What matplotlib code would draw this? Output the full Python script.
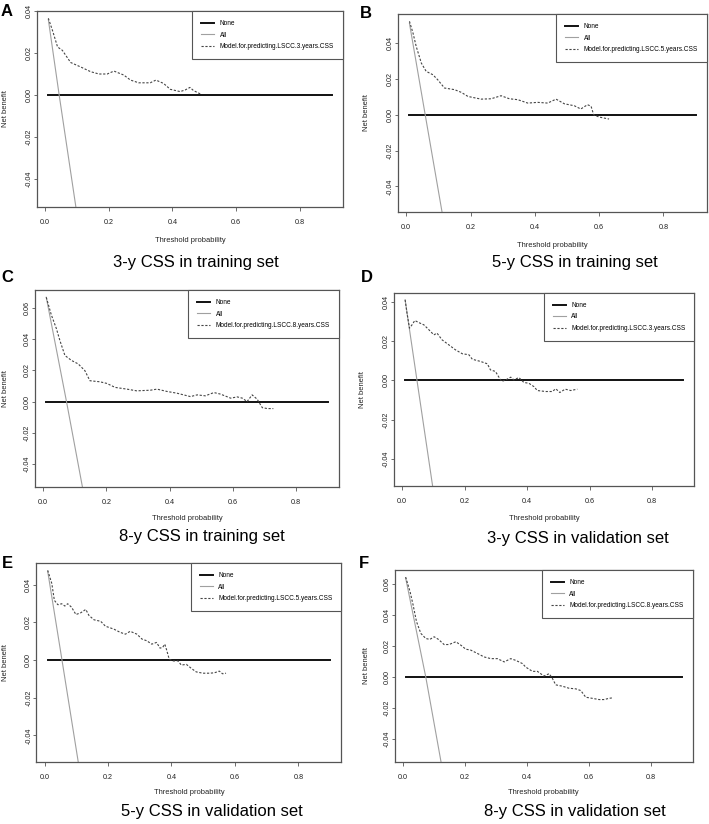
import numpy as np
import matplotlib
matplotlib.use('Agg')
import matplotlib.pyplot as plt

plt.rcParams['font.family'] = ['Liberation Sans', 'DejaVu Sans']

# decision curves (threshold probability -> net benefit)
none_thr = [0.01, 0.90]
none_nb = [0.0, 0.0]

a_thr = [0.01, 0.023, 0.039, 0.054, 0.080, 0.111, 0.143, 0.169, 0.195, 0.216, 0.247,
         0.268, 0.294, 0.330, 0.348, 0.372, 0.393, 0.424, 0.440, 0.455, 0.466, 0.49]
a_model = [0.0366, 0.0308, 0.0229, 0.0213, 0.0155, 0.0134, 0.0111, 0.0100, 0.0100, 0.0114, 0.0095,
           0.0071, 0.0058, 0.0058, 0.0071, 0.0055, 0.0027, 0.0016, 0.0024, 0.0036, 0.0021, 0.0003]
a_all_thr = [0.01, 0.044, 0.10]
a_all = [0.036, 0.0, -0.057]

b_thr = [0.01, 0.021, 0.031, 0.047, 0.062, 0.083, 0.098, 0.119, 0.150, 0.171, 0.192, 0.233, 0.264, 0.295,
         0.321, 0.347, 0.378, 0.409, 0.440, 0.466, 0.492, 0.523, 0.543, 0.564, 0.575, 0.583, 0.600, 0.631]
b_model = [0.0521, 0.0456, 0.0381, 0.0288, 0.0242, 0.0223, 0.0195, 0.0149, 0.0140, 0.0125, 0.0102, 0.0087, 0.0089, 0.0106,
           0.0089, 0.0084, 0.0065, 0.0069, 0.0065, 0.0087, 0.0061, 0.0050, 0.0032, 0.0056, 0.0047, 0.0, -0.0013, -0.0024]
b_all_thr = [0.01, 0.059, 0.115]
b_all = [0.051, 0.0, -0.058]

c_thr = [0.01, 0.026, 0.042, 0.053, 0.069, 0.090, 0.111, 0.132, 0.148, 0.180, 0.201, 0.228, 0.265, 0.296, 0.339, 0.360,
         0.392, 0.423, 0.466, 0.487, 0.513, 0.540, 0.561, 0.593, 0.614, 0.630, 0.645, 0.661, 0.677, 0.693, 0.709, 0.728]
c_model = [0.0670, 0.0557, 0.0469, 0.0393, 0.0296, 0.0264, 0.0242, 0.0199, 0.0134, 0.0127, 0.0117, 0.0091, 0.0080, 0.0069, 0.0073, 0.0080,
           0.0065, 0.0054, 0.0032, 0.0043, 0.0037, 0.0058, 0.0048, 0.0022, 0.0030, 0.0022, 0.0, 0.0043, 0.0015, -0.0039, -0.0045, -0.0045]
c_all_thr = [0.01, 0.074, 0.13]
c_all = [0.067, 0.0, -0.061]

d_thr = [0.01, 0.016, 0.024, 0.032, 0.041, 0.053, 0.070, 0.086, 0.102, 0.112, 0.128, 0.150, 0.171, 0.193, 0.214, 0.225, 0.251, 0.273, 0.283,
         0.299, 0.310, 0.319, 0.332, 0.348, 0.358, 0.374, 0.390, 0.406, 0.422, 0.433, 0.460, 0.481, 0.492, 0.505, 0.522, 0.540, 0.561]
d_model = [0.0410, 0.0342, 0.0266, 0.0283, 0.0305, 0.0295, 0.0283, 0.0258, 0.0232, 0.0241, 0.0207, 0.0181, 0.0156, 0.0136, 0.0131, 0.0108, 0.0097, 0.0085, 0.0054,
           0.0046, 0.0017, -0.0005, 0.0003, 0.0017, 0.0003, 0.0015, -0.0010, -0.0014, -0.0031, -0.0051, -0.0056, -0.0056, -0.0042, -0.0061, -0.0044, -0.0051, -0.0044]
d_all_thr = [0.01, 0.048, 0.102]
d_all = [0.041, 0.0, -0.058]

e_thr = [0.01, 0.023, 0.031, 0.042, 0.054, 0.064, 0.073, 0.085, 0.099, 0.114, 0.130, 0.140, 0.156, 0.177, 0.192, 0.218, 0.239, 0.255, 0.270, 0.291, 0.307,
         0.322, 0.338, 0.353, 0.364, 0.372, 0.379, 0.385, 0.393, 0.405, 0.421, 0.431, 0.447, 0.463, 0.478, 0.499, 0.520, 0.535, 0.551, 0.561, 0.572]
e_model = [0.0475, 0.0405, 0.0316, 0.0293, 0.0298, 0.0286, 0.0298, 0.0280, 0.0241, 0.0250, 0.0268, 0.0236, 0.0213, 0.0205, 0.0179, 0.0164, 0.0146, 0.0137, 0.0152, 0.0137, 0.0111,
           0.0102, 0.0084, 0.0093, 0.0063, 0.0066, 0.0084, 0.0052, 0.0004, -0.0005, -0.0005, -0.0027, -0.0023, -0.0045, -0.0063, -0.0070, -0.0070, -0.0068, -0.0059, -0.0073, -0.0070]
e_all_thr = [0.01, 0.055, 0.11]
e_all = [0.047, 0.0, -0.058]

f_thr = [0.01, 0.024, 0.034, 0.045, 0.059, 0.075, 0.088, 0.102, 0.116, 0.134, 0.150, 0.172, 0.188, 0.204, 0.220, 0.242, 0.263, 0.285, 0.306, 0.328,
         0.349, 0.365, 0.387, 0.397, 0.419, 0.435, 0.456, 0.473, 0.483, 0.494, 0.516, 0.537, 0.559, 0.575, 0.591, 0.612, 0.634, 0.650, 0.666, 0.677]
f_model = [0.0645, 0.0553, 0.0466, 0.0358, 0.0282, 0.0249, 0.0243, 0.0260, 0.0243, 0.0210, 0.0210, 0.0228, 0.0206, 0.0180, 0.0174, 0.0152, 0.0130, 0.0119, 0.0119, 0.0098,
           0.0119, 0.0108, 0.0087, 0.0065, 0.0037, 0.0037, 0.0007, 0.0022, -0.0007, -0.0050, -0.0059, -0.0072, -0.0076, -0.0087, -0.0130, -0.0137, -0.0145, -0.0145, -0.0137, -0.0134]
f_all_thr = [0.01, 0.075, 0.128]
f_all = [0.064, 0.0, -0.059]

letters = ['A', 'B', 'C', 'D', 'E', 'F']
titles = ['3-y CSS in training set', '5-y CSS in training set', '8-y CSS in training set',
          '3-y CSS in validation set', '5-y CSS in validation set', '8-y CSS in validation set']
model_labels = ['Model.for.predicting.LSCC.3.years.CSS', 'Model.for.predicting.LSCC.5.years.CSS',
                'Model.for.predicting.LSCC.8.years.CSS', 'Model.for.predicting.LSCC.3.years.CSS',
                'Model.for.predicting.LSCC.5.years.CSS', 'Model.for.predicting.LSCC.8.years.CSS']
curves = [(a_thr, a_model, a_all_thr, a_all), (b_thr, b_model, b_all_thr, b_all),
          (c_thr, c_model, c_all_thr, c_all), (d_thr, d_model, d_all_thr, d_all),
          (e_thr, e_model, e_all_thr, e_all), (f_thr, f_model, f_all_thr, f_all)]

# layout in pixels: axes left, top, right, bottom, xlabel y, ylabel x, title x, title y, letter x, letter y
layout = [(37, 11, 343, 207, 240, 6, 196, 262, 7, 11),
          (398, 14, 707, 211.7, 245.7, 367, 575, 262, 366, 14),
          (35, 290, 339, 486.7, 518, 6, 201.7, 536.7, 7, 278),
          (394, 292.7, 694.4, 486, 518, 363, 578, 539, 367, 277),
          (36.4, 563, 341.4, 761.7, 793, 6, 211.7, 811.7, 7, 564),
          (394.6, 570, 692.6, 761.7, 793, 366, 575, 811.7, 364, 563)]

W, H = 709, 824
fig = plt.figure(figsize=(W / 100, H / 100), dpi=100)
spine_col = '#555555'

for i in range(6):
    thr, model, all_thr, all_nb = curves[i]
    l, t, r, b, xl_y, yl_x, tx, ty, lx, ly = layout[i]
    ax = fig.add_axes([l / W, 1 - b / H, (r - l) / W, (b - t) / H])

    ax.plot(none_thr, none_nb, color='#111111', lw=1.4, label='None')
    ax.plot(all_thr, all_nb, color='#a0a0a0', lw=0.8, label='All')
    ax.plot(thr, model, color='#444444', lw=0.8, dashes=(2, 1.5), label=model_labels[i])

    xlo, xhi = 0.01, 0.90
    xp = 0.04 * (xhi - xlo)
    ax.set_xlim(xlo - xp, xhi + xp)
    ylo, yhi = -0.05, max(model)
    yp = 0.04 * (yhi - ylo)
    ax.set_ylim(ylo - yp, yhi + yp)

    ax.set_xticks([0.0, 0.2, 0.4, 0.6, 0.8])
    ax.set_xticklabels(['0.0', '0.2', '0.4', '0.6', '0.8'])
    yt = np.arange(-0.04, yhi + yp + 1e-9, 0.02)
    ax.set_yticks(yt)
    ax.set_yticklabels(['%.2f' % v if abs(v) > 1e-9 else '0.00' for v in yt],
                       rotation=90, va='center')

    ax.tick_params(labelsize=5.2, width=0.6, color=spine_col, labelcolor='#222222')
    ax.tick_params(axis='x', length=3, pad=6)
    ax.tick_params(axis='y', length=2, pad=1)
    for s in ax.spines.values():
        s.set_color(spine_col)
        s.set_linewidth(0.9)

    ax.set_xlabel('Threshold probability', fontsize=5.4, color='#222222')
    ax.xaxis.set_label_coords(0.5, -(xl_y - b) / (b - t))
    ax.xaxis.label.set_va('center')
    ax.set_ylabel('Net benefit', fontsize=5.4, color='#222222')
    ax.yaxis.set_label_coords((yl_x - l) / (r - l), 0.5)
    ax.yaxis.label.set_va('center')
    ax.yaxis.label.set_ha('center')

    leg = ax.legend(loc='upper right', bbox_to_anchor=(1, 1), borderaxespad=0, fontsize=4.7,
                    fancybox=False, framealpha=1, edgecolor=spine_col, borderpad=1.4,
                    labelspacing=0.7, handlelength=2.0, handletextpad=0.8)
    leg.get_frame().set_linewidth(0.8)

    fig.text(tx / W, 1 - ty / H, titles[i], ha='center', va='center', fontsize=12)
    fig.text(lx / W, 1 - ly / H, letters[i], ha='center', va='center', fontsize=12, fontweight='bold')

fig.savefig('out.png', dpi=100)
